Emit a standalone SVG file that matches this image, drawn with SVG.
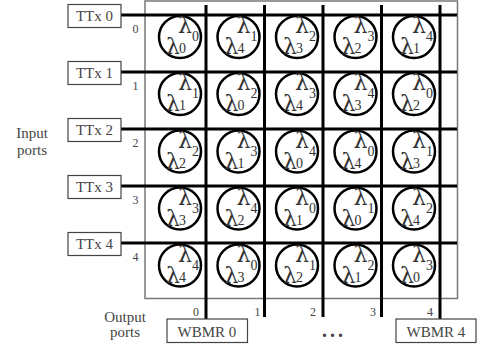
<svg xmlns="http://www.w3.org/2000/svg" width="479" height="347" viewBox="0 0 479 347">
<style>
  text { font-family: "Liberation Serif", "Times New Roman", serif; fill: #444; }
  .lbl { font-size: 15px; text-anchor: middle; }
  .idx { font-size: 12px; text-anchor: middle; }
  .port { fill: #fff; stroke: #444; stroke-width: 1.2; }
  .bus { stroke: #000; stroke-width: 3; fill: none; }
  .ring { fill: #fff; stroke: #000; stroke-width: 2.5; }
  .L { font-family: "DejaVu Serif", serif; font-size: 22px; fill: #333; }
  .s { font-size: 14px; fill: #333; }
</style>

<!-- switch fabric frame -->
<rect id="fabric" x="145" y="1" width="312.5" height="297.5" fill="#fff" stroke="#777" stroke-width="1.5"/>

<!-- input / output buses -->
<g id="connectors">
  <line class="bus" x1="121" y1="15" x2="457" y2="15"/>
  <line class="bus" x1="121" y1="72" x2="457" y2="72"/>
  <line class="bus" x1="121" y1="129" x2="457" y2="129"/>
  <line class="bus" x1="121" y1="186" x2="457" y2="186"/>
  <line class="bus" x1="121" y1="243" x2="457" y2="243"/>
  <line class="bus" x1="206" y1="5" x2="206" y2="319"/>
  <line class="bus" x1="264.5" y1="5" x2="264.5" y2="317"/>
  <line class="bus" x1="323" y1="5" x2="323" y2="317"/>
  <line class="bus" x1="381.5" y1="5" x2="381.5" y2="317"/>
  <line class="bus" x1="440" y1="5" x2="440" y2="319"/>
</g>

<!-- port indices -->
<g id="indices">
  <text class="idx" x="135.5" y="33">0</text>
  <text class="idx" x="135.5" y="90">1</text>
  <text class="idx" x="135.5" y="147">2</text>
  <text class="idx" x="135.5" y="204">3</text>
  <text class="idx" x="135.5" y="261">4</text>
  <text class="idx" x="196" y="316">0</text>
  <text class="idx" x="257.5" y="316">1</text>
  <text class="idx" x="313" y="316">2</text>
  <text class="idx" x="373" y="316">3</text>
  <text class="idx" x="430" y="316">4</text>
</g>

<!-- transmitters -->
<g id="ttx0"><rect class="port" x="68" y="4.5" width="53" height="23"/><text class="lbl" x="94.5" y="21">TTx 0</text></g>
<g id="ttx1"><rect class="port" x="68" y="61.5" width="53" height="23"/><text class="lbl" x="94.5" y="78">TTx 1</text></g>
<g id="ttx2"><rect class="port" x="68" y="118.5" width="53" height="23"/><text class="lbl" x="94.5" y="135">TTx 2</text></g>
<g id="ttx3"><rect class="port" x="68" y="175.5" width="53" height="23"/><text class="lbl" x="94.5" y="192">TTx 3</text></g>
<g id="ttx4"><rect class="port" x="68" y="232.5" width="53" height="23"/><text class="lbl" x="94.5" y="249">TTx 4</text></g>

<!-- receivers -->
<g id="wbmr0"><rect class="port" x="167" y="319" width="80.5" height="23.5"/><text class="lbl" x="207" y="337">WBMR 0</text></g>
<g id="wbmr4"><rect class="port" x="396" y="319" width="80" height="23.5"/><text class="lbl" x="436" y="337">WBMR 4</text></g>

<text id="ellipsis" x="334" y="337" style="font-size:20px;font-weight:bold;text-anchor:middle;letter-spacing:3px">...</text>

<g id="captions">
  <text class="lbl" x="32" y="138">Input</text>
  <text class="lbl" x="32" y="155">ports</text>
  <text class="lbl" x="125" y="322">Output</text>
  <text class="lbl" x="125" y="337">ports</text>
</g>

<!-- wavelength routing cells: upper λ (r+c)%5, lower λ (r-c)%5 -->
<g id="n00" transform="translate(180,37)"><circle class="ring" r="21"/><text class="L" x="-2" y="-4">λ</text><text class="s" x="12" y="4">0</text><text class="L" x="-14" y="17">λ</text><text class="s" x="-1" y="16">0</text></g>
<g id="n01" transform="translate(238.5,37)"><circle class="ring" r="21"/><text class="L" x="-2" y="-4">λ</text><text class="s" x="12" y="4">1</text><text class="L" x="-14" y="17">λ</text><text class="s" x="-1" y="16">4</text></g>
<g id="n02" transform="translate(297,37)"><circle class="ring" r="21"/><text class="L" x="-2" y="-4">λ</text><text class="s" x="12" y="4">2</text><text class="L" x="-14" y="17">λ</text><text class="s" x="-1" y="16">3</text></g>
<g id="n03" transform="translate(355.5,37)"><circle class="ring" r="21"/><text class="L" x="-2" y="-4">λ</text><text class="s" x="12" y="4">3</text><text class="L" x="-14" y="17">λ</text><text class="s" x="-1" y="16">2</text></g>
<g id="n04" transform="translate(414,37)"><circle class="ring" r="21"/><text class="L" x="-2" y="-4">λ</text><text class="s" x="12" y="4">4</text><text class="L" x="-14" y="17">λ</text><text class="s" x="-1" y="16">1</text></g>

<g id="n10" transform="translate(180,94)"><circle class="ring" r="21"/><text class="L" x="-2" y="-4">λ</text><text class="s" x="12" y="4">1</text><text class="L" x="-14" y="17">λ</text><text class="s" x="-1" y="16">1</text></g>
<g id="n11" transform="translate(238.5,94)"><circle class="ring" r="21"/><text class="L" x="-2" y="-4">λ</text><text class="s" x="12" y="4">2</text><text class="L" x="-14" y="17">λ</text><text class="s" x="-1" y="16">0</text></g>
<g id="n12" transform="translate(297,94)"><circle class="ring" r="21"/><text class="L" x="-2" y="-4">λ</text><text class="s" x="12" y="4">3</text><text class="L" x="-14" y="17">λ</text><text class="s" x="-1" y="16">4</text></g>
<g id="n13" transform="translate(355.5,94)"><circle class="ring" r="21"/><text class="L" x="-2" y="-4">λ</text><text class="s" x="12" y="4">4</text><text class="L" x="-14" y="17">λ</text><text class="s" x="-1" y="16">3</text></g>
<g id="n14" transform="translate(414,94)"><circle class="ring" r="21"/><text class="L" x="-2" y="-4">λ</text><text class="s" x="12" y="4">0</text><text class="L" x="-14" y="17">λ</text><text class="s" x="-1" y="16">2</text></g>

<g id="n20" transform="translate(180,151.5)"><circle class="ring" r="21"/><text class="L" x="-2" y="-4">λ</text><text class="s" x="12" y="4">2</text><text class="L" x="-14" y="17">λ</text><text class="s" x="-1" y="16">2</text></g>
<g id="n21" transform="translate(238.5,151.5)"><circle class="ring" r="21"/><text class="L" x="-2" y="-4">λ</text><text class="s" x="12" y="4">3</text><text class="L" x="-14" y="17">λ</text><text class="s" x="-1" y="16">1</text></g>
<g id="n22" transform="translate(297,151.5)"><circle class="ring" r="21"/><text class="L" x="-2" y="-4">λ</text><text class="s" x="12" y="4">4</text><text class="L" x="-14" y="17">λ</text><text class="s" x="-1" y="16">0</text></g>
<g id="n23" transform="translate(355.5,151.5)"><circle class="ring" r="21"/><text class="L" x="-2" y="-4">λ</text><text class="s" x="12" y="4">0</text><text class="L" x="-14" y="17">λ</text><text class="s" x="-1" y="16">4</text></g>
<g id="n24" transform="translate(414,151.5)"><circle class="ring" r="21"/><text class="L" x="-2" y="-4">λ</text><text class="s" x="12" y="4">1</text><text class="L" x="-14" y="17">λ</text><text class="s" x="-1" y="16">3</text></g>

<g id="n30" transform="translate(180,208.5)"><circle class="ring" r="21"/><text class="L" x="-2" y="-4">λ</text><text class="s" x="12" y="4">3</text><text class="L" x="-14" y="17">λ</text><text class="s" x="-1" y="16">3</text></g>
<g id="n31" transform="translate(238.5,208.5)"><circle class="ring" r="21"/><text class="L" x="-2" y="-4">λ</text><text class="s" x="12" y="4">4</text><text class="L" x="-14" y="17">λ</text><text class="s" x="-1" y="16">2</text></g>
<g id="n32" transform="translate(297,208.5)"><circle class="ring" r="21"/><text class="L" x="-2" y="-4">λ</text><text class="s" x="12" y="4">0</text><text class="L" x="-14" y="17">λ</text><text class="s" x="-1" y="16">1</text></g>
<g id="n33" transform="translate(355.5,208.5)"><circle class="ring" r="21"/><text class="L" x="-2" y="-4">λ</text><text class="s" x="12" y="4">1</text><text class="L" x="-14" y="17">λ</text><text class="s" x="-1" y="16">0</text></g>
<g id="n34" transform="translate(414,208.5)"><circle class="ring" r="21"/><text class="L" x="-2" y="-4">λ</text><text class="s" x="12" y="4">2</text><text class="L" x="-14" y="17">λ</text><text class="s" x="-1" y="16">4</text></g>

<g id="n40" transform="translate(180,265.5)"><circle class="ring" r="21"/><text class="L" x="-2" y="-4">λ</text><text class="s" x="12" y="4">4</text><text class="L" x="-14" y="17">λ</text><text class="s" x="-1" y="16">4</text></g>
<g id="n41" transform="translate(238.5,265.5)"><circle class="ring" r="21"/><text class="L" x="-2" y="-4">λ</text><text class="s" x="12" y="4">0</text><text class="L" x="-14" y="17">λ</text><text class="s" x="-1" y="16">3</text></g>
<g id="n42" transform="translate(297,265.5)"><circle class="ring" r="21"/><text class="L" x="-2" y="-4">λ</text><text class="s" x="12" y="4">1</text><text class="L" x="-14" y="17">λ</text><text class="s" x="-1" y="16">2</text></g>
<g id="n43" transform="translate(355.5,265.5)"><circle class="ring" r="21"/><text class="L" x="-2" y="-4">λ</text><text class="s" x="12" y="4">2</text><text class="L" x="-14" y="17">λ</text><text class="s" x="-1" y="16">1</text></g>
<g id="n44" transform="translate(414,265.5)"><circle class="ring" r="21"/><text class="L" x="-2" y="-4">λ</text><text class="s" x="12" y="4">3</text><text class="L" x="-14" y="17">λ</text><text class="s" x="-1" y="16">0</text></g>
</svg>
